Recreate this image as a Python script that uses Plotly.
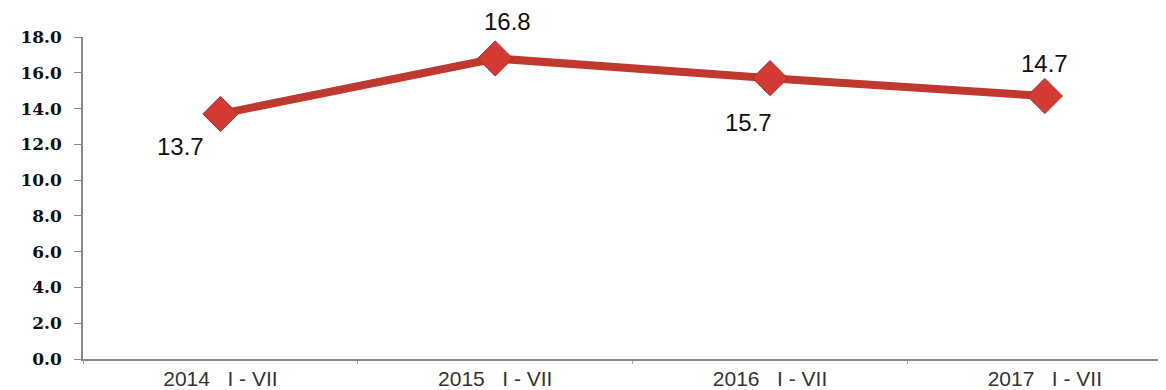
import plotly.graph_objects as go

# data
periods = ["2014\u00a0\u00a0\u00a0I\u00a0-\u00a0VII", "2015\u00a0\u00a0\u00a0I\u00a0-\u00a0VII",
           "2016\u00a0\u00a0\u00a0I\u00a0-\u00a0VII", "2017\u00a0\u00a0\u00a0I\u00a0-\u00a0VII"]
values = [13.7, 16.8, 15.7, 14.7]
y_ticks = [0, 2, 4, 6, 8, 10, 12, 14, 16, 18]

# label offsets (pixels) relative to each point
label_dx = [-40, 12, -22, 0]
label_dy = [-33, 37, -44, 33]

fig = go.Figure()
fig.add_trace(go.Scatter(
    x=periods, y=values,
    mode="lines+markers",
    line=dict(color="#c0392f", width=8),
    marker=dict(symbol="diamond", size=27, color="#d23a33",
                line=dict(color="#a82a24", width=1)),
    hoverinfo="skip",
))

for p, v, dx, dy in zip(periods, values, label_dx, label_dy):
    fig.add_annotation(x=p, y=v, text=f"{v:.1f}", showarrow=False,
                       xshift=dx, yshift=dy,
                       font=dict(family="Liberation Sans, Arial", size=24, color="#111"))

# page body adds an 8px offset, margins compensate for it
fig.update_layout(
    width=1166, height=390,
    margin=dict(l=75, r=0, t=29, b=39, autoexpand=False),
    paper_bgcolor="white", plot_bgcolor="white",
    showlegend=False,
)
fig.update_xaxes(
    range=[-0.5, 3.47], automargin=False,
    showline=True, linecolor="#888", linewidth=1.5,
    ticks="outside", tickson="boundaries", ticklen=3, tickcolor="#aaa",
    tickfont=dict(family="Liberation Sans, Arial", size=21, color="#333"),
    showgrid=False,
)
fig.update_yaxes(
    range=[0, 18], tickvals=y_ticks, automargin=False,
    ticktext=[f"{t:.1f}" for t in y_ticks],
    showline=True, linecolor="#888", linewidth=1.5,
    ticks="outside", ticklen=7, tickcolor="#888", ticklabelstandoff=9,
    tickfont=dict(family="DejaVu Serif", size=17, color="#111", weight="bold"),
    showgrid=False, zeroline=False,
)

fig.write_html("out.html")
